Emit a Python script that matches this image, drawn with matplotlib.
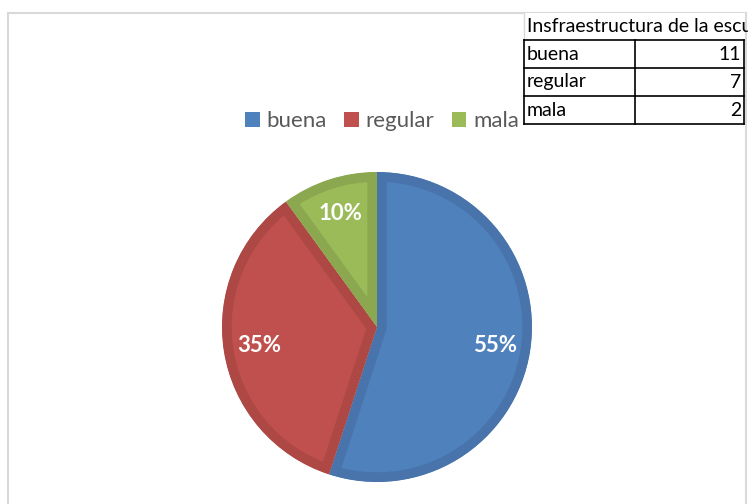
import matplotlib
matplotlib.use('Agg')
import matplotlib.pyplot as plt
from matplotlib.patches import Patch, Rectangle

labels = ['buena', 'regular', 'mala']
counts = [11, 7, 2]
table_title = 'Insfraestructura de la escuela'

fill = ['#4F81BD', '#C0504D', '#9BBB59']
edge = ['#4874AB', '#AD4845', '#8BA850']

plt.rcParams['font.family'] = ['Lato', 'DejaVu Sans']

W, H = 748, 504
fig = plt.figure(figsize=(W / 100, H / 100), dpi=100)
ax = fig.add_axes([0, 0, 1, 1])
ax.set_xlim(0, W)
ax.set_ylim(0, H)
ax.axis('off')

# chart area border (light gray)
ax.plot([8, 8], [0, H - 13], color='#D9D9D9', lw=1.5)
ax.plot([8, 746], [H - 13, H - 13], color='#D9D9D9', lw=1.5)
ax.plot([746, 746], [0, H - 13], color='#D9D9D9', lw=1.5)

# pie (darker inner band on every slice, like the excel bevel)
wedges, texts, autotexts = ax.pie(counts, colors=fill, startangle=90, counterclock=False,
                                  center=(377, H - 327), radius=155, frame=True,
                                  autopct='%1.0f%%', pctdistance=0.77,
                                  wedgeprops=dict(linewidth=14),
                                  textprops=dict(color='white', fontsize=16, fontweight='bold'))
for w, ec in zip(wedges, edge):
    w.set_edgecolor(ec)
    w.set_clip_on(True)
    w.set_clip_path(w.get_path(), w.get_transform())
ax.set_xlim(0, W)
ax.set_ylim(0, H)

# legend
handles = [Patch(facecolor=c, edgecolor='none') for c in fill]
fig.legend(handles, labels, ncol=3, loc='center', bbox_to_anchor=(382 / W, 1 - 121 / H),
           frameon=False, fontsize=16, labelcolor='#595959', handlelength=0.65,
           handleheight=0.65, handletextpad=0.3, columnspacing=0.8)

# data table in the corner (title cell is cut at the right edge, as in the sheet)
tx0, tx1, tx2 = 524, 635, 744
rows_y = [40, 68, 96, 124]
ax.add_patch(Rectangle((tx0, H - 124), tx2 - tx0 + 1, 124 - 13, facecolor='white',
                       edgecolor='none', zorder=3))
ax.plot([tx0, tx0], [H - 13, H - 40], color='#D9D9D9', lw=1, zorder=4)
for y in rows_y:
    ax.plot([tx0, tx2], [H - y, H - y], color='black', lw=1.2, zorder=4)
for x in [tx0, tx1, tx2]:
    ax.plot([x, x], [H - 40, H - 124], color='black', lw=1.2, zorder=4)
t = ax.text(tx0 + 3, H - 27, table_title, fontsize=14, va='center', ha='left', zorder=5)
t.set_clip_path(Rectangle((tx0, H - 40), tx2 - tx0, 27, transform=ax.transData))
for i, (lab, n) in enumerate(zip(labels, counts)):
    yc = H - (rows_y[i] + rows_y[i + 1]) / 2
    ax.text(tx0 + 3, yc, lab, fontsize=14, va='center', ha='left', zorder=5)
    ax.text(tx2 - 3, yc, str(n), fontsize=14, va='center', ha='right', zorder=5)

fig.savefig('out.png', dpi=100)
